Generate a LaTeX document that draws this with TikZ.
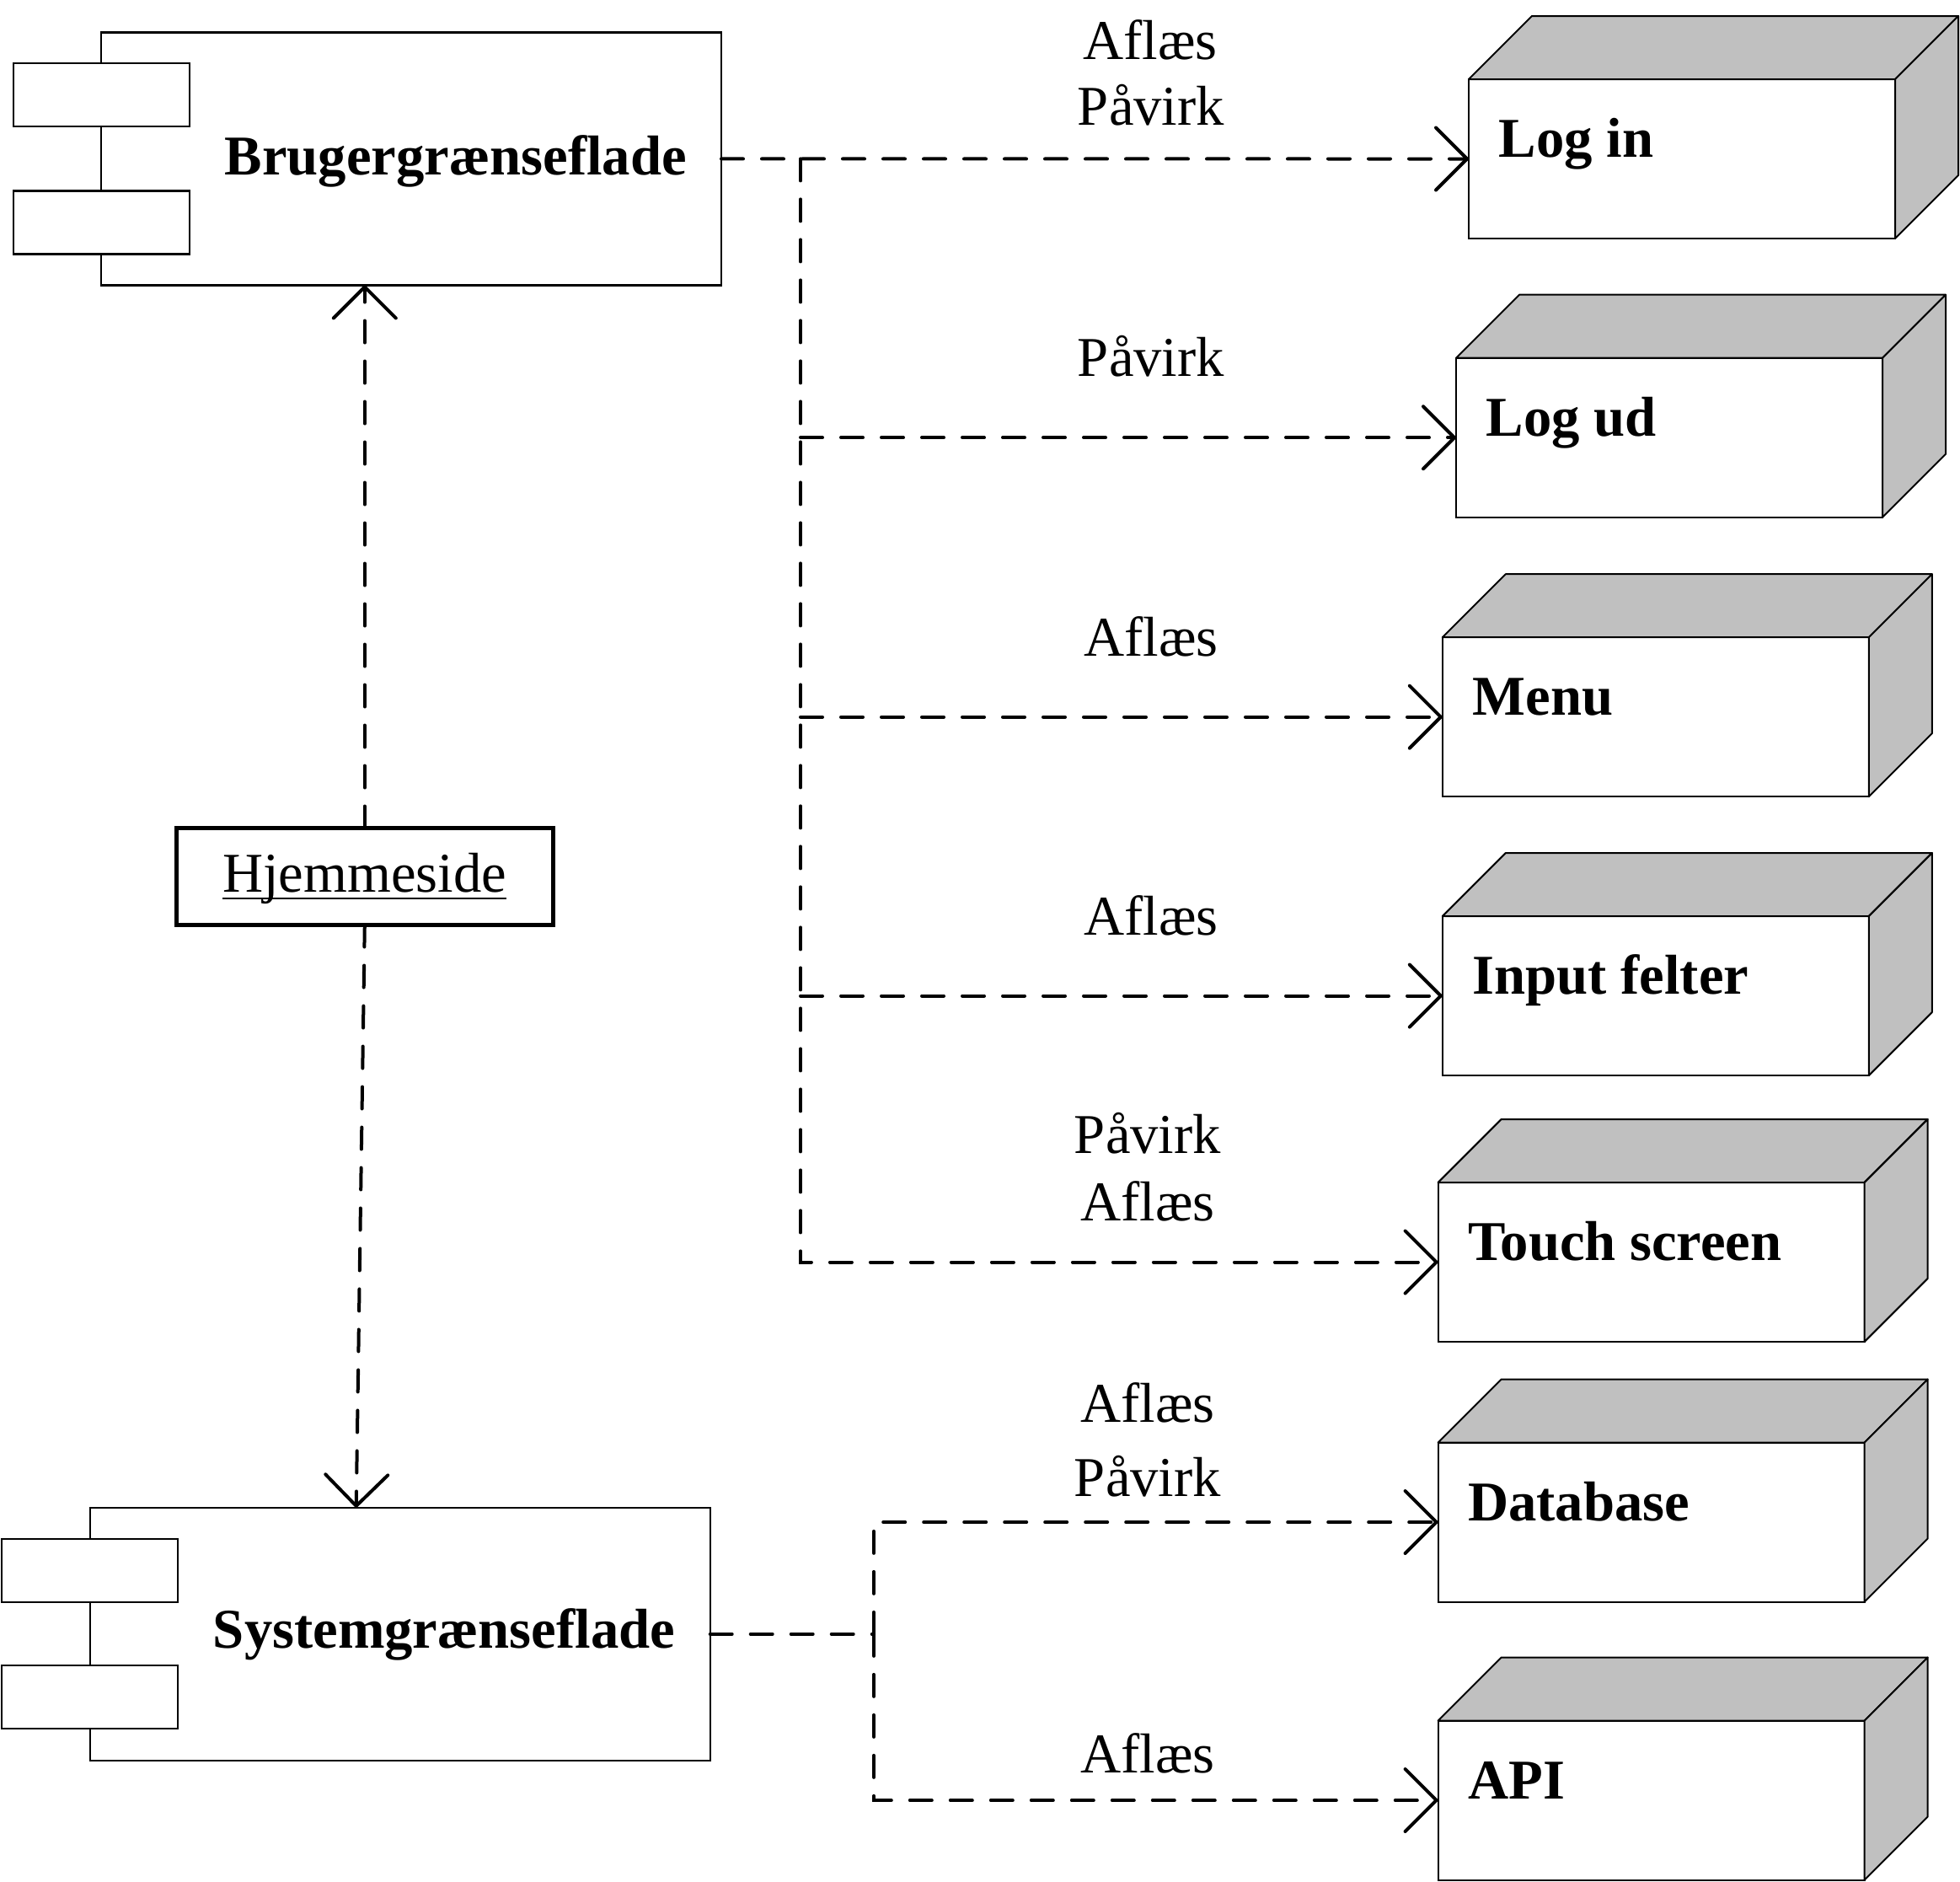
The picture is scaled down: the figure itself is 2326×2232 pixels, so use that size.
\documentclass[tikz,border=0pt]{standalone}
\usepackage{fontspec}
\setmainfont{Liberation Serif}
\usetikzlibrary{arrows.meta,calc}
\definecolor{boxgray}{HTML}{C0C0C0}
\newcommand\ulword[1]{\setbox0=\hbox{#1}\rlap{\rule[-2.7pt]{\wd0}{0.8pt}}\box0}
\newcommand\boxfaces[1]{%
  \draw[side] (#1.north west) -- ++(75,-75) -- ([shift={(75,-75)}]#1.north east) -- (#1.north east) -- cycle;
  \draw[side] (#1.north east) -- ([shift={(75,-75)}]#1.north east) -- ([shift={(75,-75)}]#1.south east) -- (#1.south east) -- cycle;}
\begin{document}
\begin{tikzpicture}[x=0.3pt,y=-0.3pt,
  every node/.style={font=\fontsize{20}{23.4}\selectfont},
  comp/.style={draw,line width=0.7pt,fill=white,minimum width=220.8pt,minimum height=90pt,inner sep=0pt,outer sep=0pt},
  port/.style={draw,line width=0.7pt,fill=white,minimum width=62.7pt,minimum height=22.5pt,inner sep=0pt,outer sep=0pt},
  front/.style={draw,line width=0.6pt,fill=white,minimum width=151.8pt,minimum height=56.7pt,inner sep=0pt,outer sep=0pt},
  side/.style={draw,line width=0.6pt,fill=boxgray,line join=round},
  hjbox/.style={draw,line width=1.5pt,minimum width=134.1pt,minimum height=34.5pt,inner sep=0pt,outer sep=0pt},
  dl/.style={line width=1.2pt,line cap=round,dash pattern=on 7.8pt off 6.6pt},
  dep/.style={dl,-{Straight Barb[length=11.1pt,width=22.2pt,round]}},
  lbl/.style={anchor=base,inner sep=0pt},
  nm/.style={anchor=base west,inner sep=0pt,font=\fontsize{20}{24}\selectfont\bfseries}
]
\useasboundingbox (0,0) rectangle (2326,2232);

% components
\node[comp] (brug) at (488,188.4) {};
\node[port] (bp1) at (120.2,112.7) {};
\node[port] (bp2) at (120.2,264) {};
\node[nm,anchor=base] (brugt) at (540.7,207.7) {Brugergrænseflade};

\node[comp] (sys) at (474.7,1938.8) {};
\node[port] (sp1) at (106.8,1863.2) {};
\node[port] (sp2) at (106.8,2013.2) {};
\node[nm,anchor=base] (syst) at (527,1955) {Systemgrænseflade};

\node[hjbox] (hj) at (432.8,1040) {};
\node[lbl] (hjt) at (432.8,1058.3) {\ulword{Hjemmeside}};

% nodes (3D boxes)
\node[front] (login) at (1996,188.5) {};
\node[front] (logud) at (1981,519.2) {};
\node[front] (menu) at (1964.8,850.7) {};
\node[front] (input) at (1964.8,1181.5) {};
\node[front] (touch) at (1959.6,1497.5) {};
\node[front] (db) at (1959.6,1806) {};
\node[front] (api) at (1959.6,2136) {};
\boxfaces{login}\boxfaces{logud}\boxfaces{menu}\boxfaces{input}
\boxfaces{touch}\boxfaces{db}\boxfaces{api}

\node[nm] (logint) at ([shift={(35,-2)}]login.west) {Log in};
\node[nm] (logudt) at ([shift={(35,-2)}]logud.west) {Log ud};
\node[nm] (menut) at ([shift={(35,-2)}]menu.west) {Menu};
\node[nm] (inputt) at ([shift={(35,-2)}]input.west) {Input felter};
\node[nm] (toucht) at ([shift={(35,-2)}]touch.west) {Touch screen};
\node[nm] (dbt) at ([shift={(35,-2)}]db.west) {Database};
\node[nm] (apit) at ([shift={(35,-2)}]api.west) {API};

% connectors
\coordinate (j) at (950,188.4);
\draw[dep] (brug.east) -- (login.west);
\draw[dep] (j) |- (touch.west);
\draw[dep] (j |- logud.west) -- (logud.west);
\draw[dep] (j |- menu.west) -- (menu.west);
\draw[dep] (j |- input.west) -- (input.west);

\coordinate (k) at (1037,1938.8);
\draw[dl] (sys.east) -- (k);
\draw[dep] (k) |- (db.west);
\draw[dep] (k) |- (api.west);

\draw[dep] (hj.north) -- (hj.north |- brug.south);
\coordinate (sysin) at ($(sys.north)+(-52,0)$);
\draw[dep] (hj.south) -- (sysin);

% labels
\node[lbl] (l1a) at (1365,70) {Aflæs};
\node[lbl] (l1b) at (1366,148) {Påvirk};
\node[lbl] (l2) at (1366,446.5) {Påvirk};
\node[lbl] (l3) at (1366,778.8) {Aflæs};
\node[lbl] (l4) at (1366,1109.6) {Aflæs};
\node[lbl] (l5a) at (1362,1368) {Påvirk};
\node[lbl] (l5b) at (1362,1448) {Aflæs};
\node[lbl] (l6a) at (1362,1687) {Aflæs};
\node[lbl] (l6b) at (1362,1775) {Påvirk};
\node[lbl] (l7) at (1362,2103.5) {Aflæs};
\end{tikzpicture}
\end{document}
